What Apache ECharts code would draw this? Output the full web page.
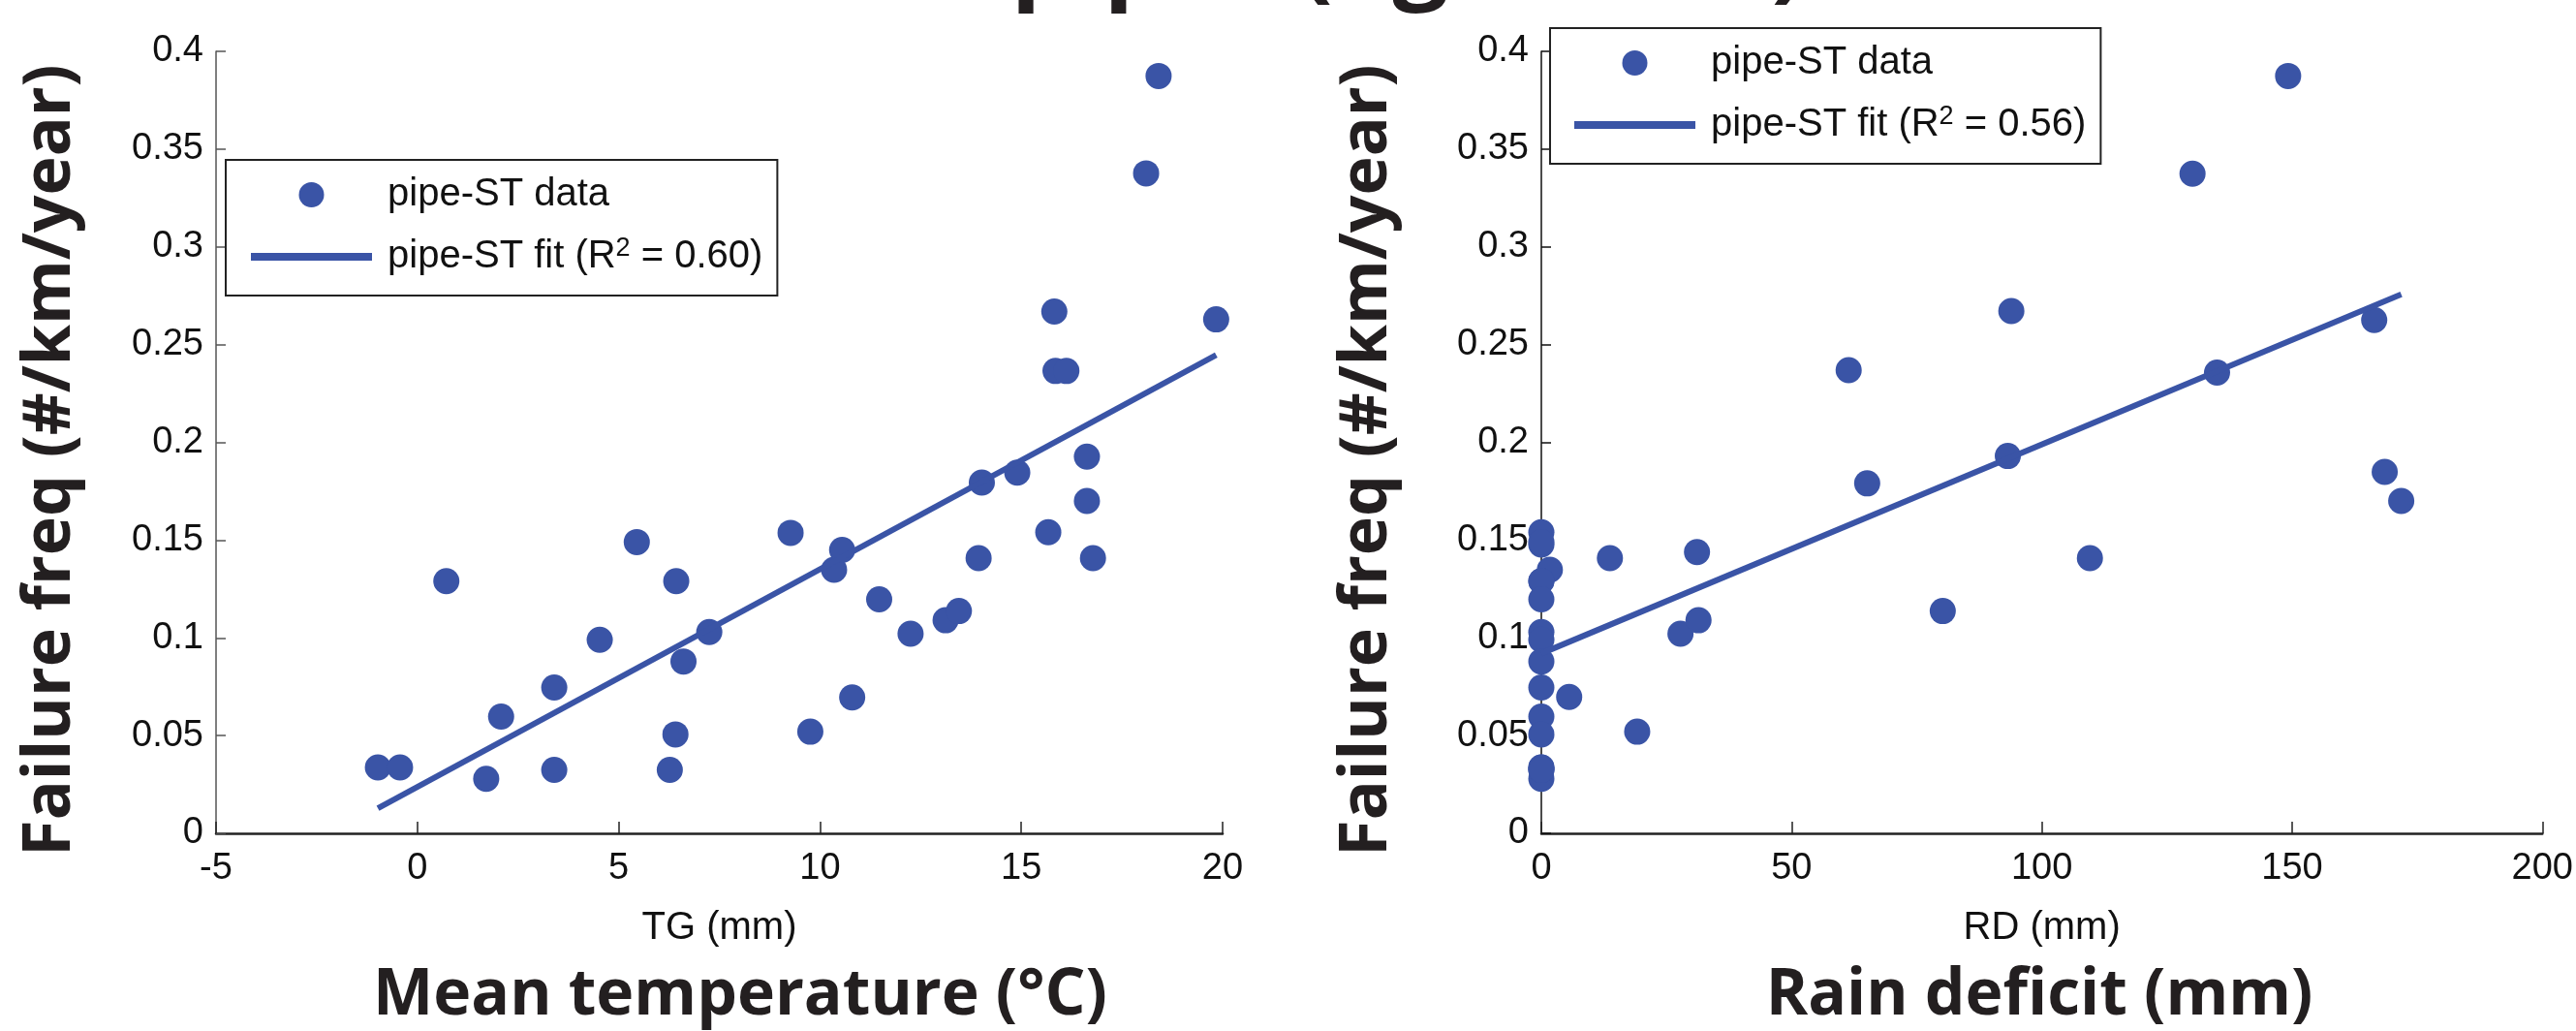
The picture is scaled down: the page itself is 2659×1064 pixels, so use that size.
<!DOCTYPE html>
<html><head><meta charset="utf-8">
<script src="https://cdn.jsdelivr.net/npm/echarts@6/dist/echarts.min.js"></script>
<style>html,body{margin:0;padding:0;background:#fff}#c{width:2659px;height:1064px}</style>
</head><body><div id="c"></div>
<script>
// ---- data ----
const tgX = [-0.98, -0.43, 0.72, 1.71, 2.08, 3.40, 3.40, 4.53, 5.45, 6.27, 6.41, 6.43, 6.61, 7.25, 9.27, 9.76, 10.35, 10.55, 10.80, 11.47, 12.25, 13.12, 13.45, 13.94, 15.67, 16.78, 18.41, 18.10, 15.82, 19.84, 15.85, 16.12, 16.63, 14.90, 14.02, 16.63];
const tgY = [0.0337, 0.0337, 0.129, 0.0279, 0.0597, 0.0746, 0.0325, 0.099, 0.149, 0.0325, 0.0506, 0.129, 0.0879, 0.103, 0.1537, 0.052, 0.1348, 0.145, 0.0695, 0.1197, 0.1021, 0.109, 0.1137, 0.1408, 0.154, 0.1408, 0.3874, 0.3376, 0.2669, 0.2629, 0.2365, 0.2365, 0.1927, 0.1845, 0.1794, 0.170];
const tgFitX = [-0.98, 19.84];
const tgFitY = [0.0128, 0.2447];

const rdX = [13.7, 31.1, 27.8, 31.4, 5.56, 19.15, 80.2, 109.6, 171.8, 149.2, 130.1, 93.9, 166.4, 61.4, 135.0, 93.2, 65.1, 168.5, 0, 0, 0, 1.7, 0, 0, 0, 0, 0, 0, 0, 0, 0, 0, 0, 0, 0, 0];
const rdY = [0.1408, 0.1439, 0.1021, 0.109, 0.0698, 0.052, 0.1137, 0.1408, 0.170, 0.3874, 0.3374, 0.2672, 0.2626, 0.2369, 0.2357, 0.193, 0.179, 0.1849, 0.154, 0.1477, 0.149, 0.1348, 0.129, 0.129, 0.1197, 0.103, 0.099, 0.0879, 0.0746, 0.0597, 0.0506, 0.0337, 0.0337, 0.0279, 0.0325, 0.0325];
const rdFitX = [0, 171.8];
const rdFitY = [0.092, 0.2757];

const seriesData = 'pipe-ST data';
const seriesFitTG = 'pipe-ST fit (R² = 0.60)';
const seriesFitRD = 'pipe-ST fit (R² = 0.56)';
const xNameTG = 'TG (mm)';
const xNameRD = 'RD (mm)';
const yTitle = 'Failure freq (#/km/year)';
const xTitleTG = 'Mean temperature (°C)';
const xTitleRD = 'Rain deficit (mm)';
const topTitle = 'Steel pipes (age class)';

// ---- chart ----
const blue = '#3A54A6';
const chart = echarts.init(document.getElementById('c'), null, {renderer: 'canvas'});
const tickFont = {fontFamily: 'Liberation Sans', fontSize: 38, color: '#111'};

function xAxisCfg(gi, min, max, interval, name) {
  return {
    type: 'value', gridIndex: gi, min, max, interval,
    name, nameLocation: 'middle', nameGap: 78,
    nameTextStyle: {fontFamily: 'Liberation Sans', fontSize: 40, color: '#111'},
    axisLine: {show: true, onZero: false, lineStyle: {color: '#222', width: 2.5}},
    axisTick: {show: true, inside: true, length: 12, lineStyle: {color: '#222', width: 1.5}},
    axisLabel: Object.assign({margin: 18}, tickFont),
    splitLine: {show: false}
  };
}
function yAxisCfg(gi, color) {
  return {
    type: 'value', gridIndex: gi, min: 0, max: 0.4, interval: 0.05,
    axisLine: {show: true, onZero: false, lineStyle: {color, width: 1.5}},
    axisTick: {show: true, inside: true, length: 10, lineStyle: {color, width: 1.5}},
    axisLabel: Object.assign({margin: 13}, tickFont),
    splitLine: {show: false}
  };
}
const lineIcon = 'path://M0,0 L125,0 L125,8 L0,8 Z';
function legendCfg(left, top, names, padL, padT) {
  return {
    orient: 'vertical', left, top, padding: [padT, 15, 18, padL], itemGap: 20,
    itemWidth: 125, itemHeight: 26, selectedMode: false,
    borderColor: '#222', borderWidth: 2, backgroundColor: '#fff',
    data: [{name: names[0], icon: 'circle'}, {name: names[1], icon: lineIcon}],
    formatter: n => n.replace('²', '{sup|2}'),
    textStyle: {
      fontFamily: 'Liberation Sans', fontSize: 40, color: '#111', lineHeight: 44,
      padding: [0, 0, 0, 11],
      rich: {sup: {fontFamily: 'Liberation Sans', fontSize: 27, color: '#111', verticalAlign: 'top', lineHeight: 27}}
    }
  };
}
const pairs = (xs, ys) => xs.map((x, i) => [x, ys[i]]);

const boldFont = {fontFamily: 'Open Sans', fontWeight: 'bold', fill: '#231f20'};

chart.setOption({
  animation: false,
  backgroundColor: '#fff',
  grid: [
    {left: 223, right: 2659 - 1262, top: 53, bottom: 1064 - 860},
    {left: 1591, right: 2659 - 2628, top: 53, bottom: 1064 - 860}
  ],
  xAxis: [xAxisCfg(0, -5, 20, 5, xNameTG), xAxisCfg(1, 0, 200, 50, xNameRD)],
  yAxis: [yAxisCfg(0, '#555'), yAxisCfg(1, '#111')],
  legend: [
    legendCfg(233, 165, [seriesData, seriesFitTG], 26, 14),
    legendCfg(1600, 29, [seriesData, seriesFitRD], 25, 14)
  ],
  series: [
    {type: 'scatter', name: seriesData, xAxisIndex: 0, yAxisIndex: 0, data: pairs(tgX, tgY),
     symbol: 'circle', symbolSize: 27, itemStyle: {color: blue, opacity: 1}, z: 2},
    {type: 'line', name: seriesFitTG, xAxisIndex: 0, yAxisIndex: 0, data: pairs(tgFitX, tgFitY),
     symbol: 'none', lineStyle: {color: blue, width: 6}, itemStyle: {color: blue}, z: 3},
    {type: 'scatter', name: seriesData, xAxisIndex: 1, yAxisIndex: 1, data: pairs(rdX, rdY),
     symbol: 'circle', symbolSize: 27, itemStyle: {color: blue, opacity: 1}, z: 2},
    {type: 'line', name: seriesFitRD, xAxisIndex: 1, yAxisIndex: 1, data: pairs(rdFitX, rdFitY),
     symbol: 'none', lineStyle: {color: blue, width: 6}, itemStyle: {color: blue}, z: 3}
  ],
  graphic: [
    {type: 'text', x: 764, y: 1028, z: 10,
     style: Object.assign({text: xTitleTG, fontSize: 66, textAlign: 'center', textVerticalAlign: 'middle'}, boldFont)},
    {type: 'text', x: 2105, y: 1028, z: 10,
     style: Object.assign({text: xTitleRD, fontSize: 66, textAlign: 'center', textVerticalAlign: 'middle'}, boldFont)},
    {type: 'text', x: 53, y: 475, rotation: Math.PI / 2, z: 10,
     style: Object.assign({text: yTitle, fontSize: 68, textAlign: 'center', textVerticalAlign: 'middle'}, boldFont)},
    {type: 'text', x: 1412, y: 475, rotation: Math.PI / 2, z: 10,
     style: Object.assign({text: yTitle, fontSize: 68, textAlign: 'center', textVerticalAlign: 'middle'}, boldFont)},
    {type: 'text', x: 765, y: -40, z: 10,
     style: Object.assign({text: topTitle, fontSize: 102, textAlign: 'left', textVerticalAlign: 'middle'}, boldFont)}
  ]
});
</script></body></html>
